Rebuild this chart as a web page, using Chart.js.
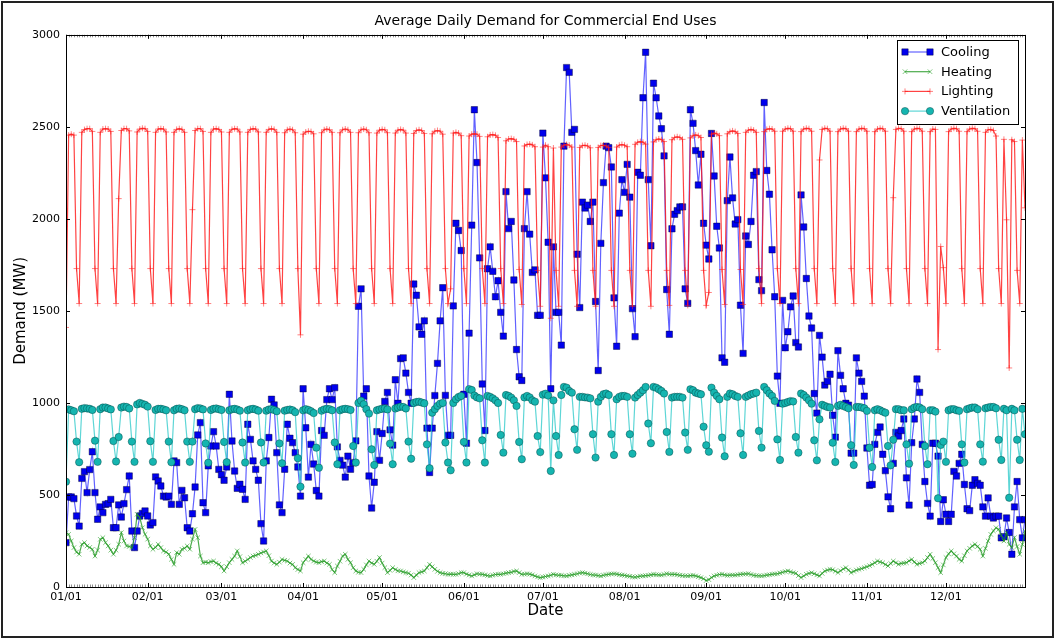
<!DOCTYPE html>
<html>
<head>
<meta charset="utf-8">
<title>Average Daily Demand for Commercial End Uses</title>
<script src="https://cdn.jsdelivr.net/npm/chart.js@4.4.1/dist/chart.umd.min.js"></script>
<style>
  html, body { margin: 0; padding: 0; background: #fff; }
  #wrap { width: 1056px; height: 640px; }
</style>
</head>
<body>
<div id="wrap"><canvas id="demand-chart" width="1056" height="640"></canvas></div>
<script>
// x axis: day of year (0 = Jan 1), ticks on the first of each month
const monthTickDays = [0, 31, 59, 90, 120, 151, 181, 212, 243, 273, 304, 334];
const monthTickLabels = ['01/01', '02/01', '03/01', '04/01', '05/01', '06/01',
                         '07/01', '08/01', '09/01', '10/01', '11/01', '12/01'];
const yTickValues = [0, 500, 1000, 1500, 2000, 2500, 3000];
const seriesNames = ['Cooling', 'Heating', 'Lighting', 'Ventilation'];

// daily averages in MW, one row per month
const cooling = [
  241, 489, 489, 480, 386, 331, 590, 627, 513, 638, 735, 513, 368, 435, 404, 449, 453, 476, 322, 322, 446, 380, 453, 529, 603, 304, 214, 304, 386, 400, 413,
  386, 337, 350, 598, 576, 549, 494, 489, 494, 449, 685, 676, 449, 525, 485, 322, 304, 398, 543, 826, 893, 458, 404, 658, 766, 844, 766, 639,
  610, 580, 652, 1047, 793, 630, 536, 558, 531, 476, 884, 802, 685, 639, 580, 344, 250, 685, 812, 1020, 989, 730, 446, 404, 640, 884, 808, 784, 730, 652, 494,
  1077, 865, 597, 775, 668, 524, 494, 850, 824, 1018, 1077, 1018, 1083, 761, 688, 662, 597, 711, 640, 676, 794, 1525, 1620, 1037, 1077, 603, 429, 569, 844, 688,
  834, 1008, 1057, 854, 771, 1126, 998, 1241, 1245, 1162, 1057, 998, 1646, 1585, 1413, 1373, 1446, 863, 622, 863, 1040, 1215, 1446, 1626, 1041, 824, 824, 1527, 1976, 1937, 1828,
  1047, 781, 1379, 1966, 2593, 2306, 1788, 1103, 850, 1729, 1848, 1715, 1577, 1664, 1492, 1363, 2148, 1947, 1986, 1668, 1290, 1142, 1122, 1947, 2148, 1917, 1709, 1723, 1476, 1476,
  2466, 2223, 1873, 1077, 1848, 1492, 1492, 1314, 2395, 2822, 2796, 2470, 2486, 1808, 1518, 2091, 2059, 2075, 1986, 2091, 1551, 1176, 1867, 2197, 2395, 2387, 2282, 1571, 1308, 2031, 2213,
  2144, 2296, 2118, 1512, 1360, 2253, 2237, 2658, 2905, 2213, 1854, 2737, 2658, 2559, 2490, 2342, 1616, 1373, 1946, 2025, 2045, 2065, 2065, 1620, 1541, 2593, 2519, 2371, 2184, 2351, 1976,
  1857, 1782, 2464, 2233, 1960, 1842, 1245, 1221, 2099, 2336, 2114, 1972, 1996, 1531, 1269, 1907, 1861, 1986, 2237, 2257, 1670, 1610, 2632, 2263, 2134, 1832, 1577, 1146, 998, 1557,
  1300, 1387, 1522, 1581, 1328, 1304, 2130, 1956, 1676, 1472, 1407, 1051, 945, 1367, 1249, 1097, 1117, 1156, 933, 814, 1284, 1150, 1077, 998, 988, 727, 727, 1245, 1162, 1117, 1037,
  755, 553, 557, 775, 840, 869, 721, 632, 490, 425, 672, 840, 820, 850, 913, 593, 445, 784, 913, 1130, 1057, 775, 573, 454, 385, 781, 781, 711, 356, 474,
  395, 356, 395, 628, 603, 672, 721, 557, 425, 415, 553, 583, 563, 553, 435, 385, 484, 385, 375, 385, 385, 267, 273, 375, 296, 178, 435, 573, 366, 267, 366
];

const heating = [
  295, 286, 250, 214, 190, 178, 232, 241, 223, 215, 205, 168, 200, 259, 268, 241, 223, 200, 178, 200, 232, 295, 250, 223, 220, 214, 268, 395, 377, 322, 286,
  260, 223, 205, 215, 232, 214, 196, 190, 178, 150, 123, 187, 178, 205, 210, 223, 205, 260, 313, 268, 168, 132, 135, 132, 138, 141, 130, 123,
  110, 87, 110, 132, 150, 168, 196, 165, 132, 140, 150, 160, 168, 172, 178, 185, 190, 196, 170, 141, 130, 123, 135, 150, 145, 141, 130, 123, 105, 95, 87,
  132, 150, 168, 150, 141, 135, 132, 138, 141, 130, 123, 95, 78, 114, 140, 168, 178, 150, 132, 105, 87, 80, 78, 96, 120, 141, 130, 123, 140, 160,
  130, 105, 78, 90, 105, 95, 88, 87, 82, 78, 75, 65, 51, 65, 78, 82, 87, 105, 123, 110, 96, 85, 78, 74, 72, 69, 70, 69, 69, 72, 78,
  78, 70, 65, 60, 66, 72, 70, 69, 66, 62, 60, 64, 68, 69, 69, 72, 75, 78, 80, 85, 87, 78, 69, 70, 72, 70, 66, 60, 55, 51,
  54, 57, 60, 64, 69, 66, 64, 63, 61, 60, 63, 66, 69, 72, 76, 78, 75, 72, 68, 66, 65, 62, 60, 64, 67, 69, 71, 72, 70, 67, 65,
  63, 60, 58, 55, 54, 56, 59, 60, 62, 63, 66, 69, 67, 66, 65, 68, 72, 70, 69, 69, 67, 64, 62, 61, 60, 62, 63, 60, 56, 51, 45,
  35, 40, 52, 60, 64, 68, 69, 66, 63, 64, 65, 65, 67, 69, 70, 71, 72, 68, 64, 62, 61, 60, 62, 65, 67, 69, 71, 72, 76, 80,
  84, 87, 82, 78, 75, 62, 51, 60, 69, 74, 78, 72, 66, 60, 74, 87, 92, 96, 94, 86, 78, 88, 98, 105, 92, 78, 85, 92, 96, 100, 105,
  110, 116, 123, 132, 141, 136, 132, 122, 114, 128, 141, 132, 123, 128, 130, 132, 142, 150, 136, 123, 128, 132, 141, 160, 178, 155, 132, 105, 78, 120,
  160, 180, 196, 180, 168, 150, 141, 170, 196, 210, 223, 232, 220, 205, 168, 210, 250, 286, 305, 322, 313, 280, 250, 295, 232, 214, 268, 220, 178, 232, 304
];

const lighting = [
  1410, 2455, 2460, 2455, 1730, 1540, 2470, 2485, 2490, 2490, 2475, 1730, 1540, 2470, 2488, 2490, 2488, 2475, 1730, 1540, 2110, 2480, 2490, 2490, 2478, 1730, 1540, 2472, 2488, 2492, 2490,
  2475, 1730, 1540, 2470, 2488, 2490, 2488, 2472, 1730, 1540, 2470, 2486, 2490, 2486, 2470, 1730, 1540, 2050, 2480, 2490, 2490, 2475, 1730, 1540, 2470, 2488, 2490, 2486,
  2472, 1730, 1540, 2470, 2486, 2490, 2488, 2472, 1730, 1540, 2470, 2486, 2490, 2488, 2472, 1730, 1540, 2470, 2486, 2490, 2486, 2470, 1730, 1540, 2468, 2484, 2488, 2484, 2468, 1730, 1370,
  2460, 2472, 2476, 2474, 2462, 1730, 1540, 2468, 2484, 2488, 2484, 2470, 1730, 1540, 2468, 2484, 2488, 2484, 2470, 1730, 1540, 2468, 2484, 2488, 2484, 2468, 1730, 1540, 2466, 2482,
  2486, 2484, 2468, 1730, 1540, 2466, 2482, 2486, 2482, 2466, 1730, 1540, 2464, 2480, 2484, 2480, 2464, 1730, 1540, 2462, 2476, 2480, 2476, 2460, 1730, 1540, 1620, 2466, 2470, 2466, 2452,
  1730, 1540, 2450, 2460, 2462, 2460, 2448, 1730, 1540, 2446, 2456, 2458, 2454, 2442, 1730, 1540, 2424, 2434, 2436, 2432, 2420, 1725, 1535, 2396, 2404, 2406, 2402, 2392, 1720, 1525,
  2390, 2400, 2392, 1460, 2385, 1720, 1525, 2390, 2400, 2404, 2400, 2390, 1720, 1525, 2388, 2398, 2400, 2396, 2386, 1720, 1525, 2388, 2398, 2400, 2396, 2388, 1720, 1525, 2390, 2400, 2404,
  2400, 2392, 1720, 1525, 2405, 2416, 2420, 2416, 2406, 1720, 1525, 2418, 2430, 2434, 2430, 2420, 1720, 1530, 2430, 2442, 2446, 2442, 2432, 1720, 1530, 2440, 2452, 2456, 2452, 2442, 1720,
  1530, 1600, 2460, 2466, 2462, 2452, 1725, 1535, 2462, 2474, 2478, 2474, 2464, 1725, 1535, 2470, 2482, 2486, 2482, 2470, 1730, 1540, 2474, 2486, 2490, 2488, 2476, 1730, 1540, 2476,
  2488, 2492, 2490, 2476, 1730, 1540, 2474, 2488, 2492, 2490, 2476, 1730, 1540, 2320, 2486, 2492, 2490, 2476, 1730, 1540, 2474, 2488, 2492, 2490, 2476, 1730, 1540, 2474, 2488, 2492, 2490,
  2476, 1730, 1540, 2474, 2488, 2492, 2490, 2476, 1730, 1540, 2115, 2486, 2492, 2490, 2476, 1730, 1540, 2474, 2488, 2492, 2490, 2476, 1730, 1540, 2474, 2488, 2486, 1290, 1850, 1735,
  1540, 2474, 2488, 2492, 2490, 2476, 1730, 1540, 2474, 2488, 2492, 2490, 2476, 1730, 1540, 2470, 2484, 2486, 2480, 2450, 1730, 1540, 2432, 1995, 1190, 2430, 2420, 1720, 1540, 2428, 2060
];

const ventilation = [
  572, 965, 960, 955, 790, 678, 968, 972, 970, 968, 962, 795, 680, 966, 975, 975, 970, 965, 793, 682, 815, 975, 980, 978, 970, 790, 680, 992, 1000, 995, 990,
  980, 792, 680, 962, 968, 968, 965, 960, 790, 678, 960, 968, 970, 966, 960, 790, 680, 790, 966, 972, 970, 965, 780, 675, 962, 968, 970, 966,
  962, 788, 678, 960, 966, 968, 964, 958, 785, 676, 960, 966, 968, 964, 958, 785, 676, 958, 964, 966, 962, 955, 780, 672, 958, 962, 964, 960, 950, 700, 545,
  960, 966, 962, 955, 945, 757, 648, 958, 965, 968, 966, 960, 785, 667, 960, 966, 968, 966, 962, 766, 676, 1000, 1012, 993, 966, 942, 748, 663, 960, 965,
  968, 970, 965, 779, 667, 970, 975, 980, 978, 970, 790, 697, 1000, 1005, 1007, 1002, 998, 775, 645, 947, 966, 984, 996, 1000, 785, 676, 634, 1000, 1020, 1032, 1038,
  788, 676, 1075, 1070, 1040, 1030, 1025, 797, 676, 1038, 1033, 1025, 1014, 1000, 826, 730, 1043, 1038, 1029, 1014, 984, 788, 694, 1030, 1038, 1030, 1014, 1007, 820, 733,
  1045, 1050, 1040, 630, 1014, 820, 717, 1043, 1087, 1083, 1065, 1056, 857, 745, 1033, 1033, 1030, 1029, 1025, 830, 703, 1007, 1033, 1047, 1051, 1043, 830, 717, 1020, 1033, 1038,
  1038, 1033, 830, 724, 1029, 1043, 1056, 1069, 1087, 888, 781, 1087, 1083, 1074, 1065, 1051, 842, 734, 1029, 1033, 1033, 1033, 1029, 839, 745, 1074, 1069, 1056, 1051, 1047, 871,
  770, 735, 1083, 1056, 1038, 1020, 812, 710, 1033, 1051, 1047, 1038, 1033, 835, 717, 1033, 1040, 1047, 1051, 1056, 848, 757, 1087, 1069, 1051, 1038, 1011, 802, 690, 996,
  1000, 1005, 1010, 1008, 815, 730, 1051, 1043, 1029, 1014, 996, 797, 688, 911, 990, 984, 978, 975, 784, 679, 984, 990, 984, 978, 971, 770, 663, 978, 978, 975, 971,
  957, 757, 652, 960, 966, 960, 953, 947, 766, 661, 800, 966, 966, 960, 960, 775, 670, 966, 975, 978, 975, 966, 766, 667, 960, 960, 953, 482, 772, 790,
  680, 960, 966, 966, 960, 957, 775, 676, 966, 971, 975, 975, 966, 775, 681, 971, 975, 978, 978, 971, 800, 690, 968, 960, 485, 968, 960, 800, 690, 968, 830
];

const toPoints = values => values.map((v, i) => ({ x: i, y: v }));

const seriesStyles = [
  { data: cooling, line: 'rgba(30,30,255,0.7)', fill: '#0000ee', edge: 'rgba(0,0,50,0.75)', style: 'rect', radius: 4.5, edgeWidth: 0.6 },
  { data: heating, line: 'rgba(30,150,30,0.8)', fill: '#2e9e2e', edge: 'rgba(40,160,40,0.75)', style: 'crossRot', radius: 3.2, edgeWidth: 0.8 },
  { data: lighting, line: 'rgba(255,20,20,0.8)', fill: '#ff2020', edge: 'rgba(255,30,30,0.7)', style: 'cross', radius: 3, edgeWidth: 0.8 },
  { data: ventilation, line: 'rgba(40,200,200,0.75)', fill: '#15b5b0', edge: 'rgba(0,60,60,0.7)', style: 'circle', radius: 3.7, edgeWidth: 0.6 }
];

const datasets = seriesStyles.map((s, i) => ({
  label: seriesNames[i],
  data: toPoints(s.data),
  borderColor: s.line,
  borderWidth: 1.2,
  pointStyle: s.style,
  pointRadius: s.radius,
  pointBackgroundColor: s.fill,
  pointBorderColor: s.edge,
  pointBorderWidth: s.edgeWidth,
  tension: 0,
  fill: false,
  order: seriesStyles.length - i
}));

// white background, plot frame with inward ticks, legend box and outer border
const figureDecor = {
  id: 'figureDecor',
  beforeDraw(chart) {
    const ctx = chart.ctx;
    ctx.save();
    ctx.fillStyle = '#fff';
    ctx.fillRect(0, 0, chart.width, chart.height);
    ctx.restore();
  },
  afterDatasetsDraw(chart) {
    const { ctx, chartArea: a, scales: { x, y } } = chart;
    ctx.save();
    // daily minor ticks
    ctx.strokeStyle = 'rgba(0,0,0,0.55)';
    ctx.lineWidth = 0.8;
    ctx.beginPath();
    for (let d = 0; d <= 364; d++) {
      const px = Math.round(x.getPixelForValue(d)) + 0.5;
      ctx.moveTo(px, a.bottom); ctx.lineTo(px, a.bottom - 2.5);
      ctx.moveTo(px, a.top); ctx.lineTo(px, a.top + 2.5);
    }
    ctx.stroke();
    // major ticks
    ctx.strokeStyle = '#000';
    ctx.lineWidth = 1;
    ctx.beginPath();
    monthTickDays.forEach(d => {
      const px = Math.round(x.getPixelForValue(d)) + 0.5;
      ctx.moveTo(px, a.bottom); ctx.lineTo(px, a.bottom - 4);
      ctx.moveTo(px, a.top); ctx.lineTo(px, a.top + 4);
    });
    yTickValues.forEach(v => {
      const py = Math.round(y.getPixelForValue(v)) + 0.5;
      ctx.moveTo(a.left, py); ctx.lineTo(a.left + 4, py);
      ctx.moveTo(a.right, py); ctx.lineTo(a.right - 4, py);
    });
    ctx.stroke();
    ctx.strokeRect(Math.round(a.left) + 0.5, Math.round(a.top) + 0.5,
                   Math.round(a.right - a.left), Math.round(a.bottom - a.top));
    ctx.restore();
  },
  afterDraw(chart) {
    const ctx = chart.ctx;
    ctx.save();
    // legend
    const bx = 897.5, by = 40.5, bw = 121, bh = 84;
    ctx.fillStyle = '#fff';
    ctx.fillRect(bx, by, bw, bh);
    ctx.strokeStyle = '#000';
    ctx.lineWidth = 1;
    ctx.strokeRect(bx, by, bw, bh);
    ctx.font = '13px "DejaVu Sans"';
    ctx.textBaseline = 'middle';
    ctx.textAlign = 'left';
    seriesStyles.forEach((s, i) => {
      const ly = 52 + i * 19.7;
      ctx.strokeStyle = s.line;
      ctx.lineWidth = 1.2;
      ctx.beginPath();
      ctx.moveTo(905, ly);
      ctx.lineTo(930, ly);
      ctx.stroke();
      [905, 930].forEach(px => {
        ctx.fillStyle = s.fill;
        ctx.strokeStyle = s.edge;
        ctx.lineWidth = s.edgeWidth;
        Chart.helpers.drawPoint(ctx, { pointStyle: s.style, radius: s.radius, rotation: 0, borderWidth: s.edgeWidth }, px, ly);
      });
      ctx.fillStyle = '#000';
      ctx.fillText(seriesNames[i], 941, ly + 0.5);
    });
    // outer figure border
    ctx.strokeStyle = '#222';
    ctx.lineWidth = 2;
    ctx.strokeRect(2, 2, 1051, 635);
    ctx.restore();
  }
};

const tickFont = { family: 'DejaVu Sans', size: 11 };

new Chart(document.getElementById('demand-chart'), {
  type: 'line',
  data: { datasets },
  options: {
    responsive: false,
    animation: false,
    devicePixelRatio: 1,
    layout: { padding: { left: 12, right: 31, top: 0, bottom: 20 } },
    plugins: {
      legend: { display: false },
      tooltip: { enabled: false },
      title: {
        display: true,
        fullSize: false,
        text: 'Average Daily Demand for Commercial End Uses',
        color: '#000',
        font: { family: 'DejaVu Sans', size: 14, weight: 'normal' },
        padding: { top: 13, bottom: 5 }
      }
    },
    scales: {
      x: {
        type: 'linear',
        min: 0,
        max: 364,
        afterBuildTicks: axis => { axis.ticks = monthTickDays.map(v => ({ value: v })); },
        afterFit: axis => { axis.height = 33; },
        ticks: {
          autoSkip: false,
          maxRotation: 0,
          padding: 4,
          color: '#000',
          font: tickFont,
          callback: v => monthTickLabels[monthTickDays.indexOf(v)]
        },
        grid: { display: false, drawTicks: false, tickLength: 0 },
        border: { display: false },
        title: {
          display: true,
          text: 'Date',
          color: '#000',
          font: { family: 'DejaVu Sans', size: 15 },
          padding: { top: 2, bottom: 0 }
        }
      },
      y: {
        type: 'linear',
        min: 0,
        max: 3000,
        afterBuildTicks: axis => { axis.ticks = yTickValues.map(v => ({ value: v })); },
        afterFit: axis => { axis.width = 54; },
        ticks: { padding: 6, color: '#000', font: tickFont, callback: v => String(v) },
        grid: { display: false, drawTicks: false, tickLength: 0 },
        border: { display: false },
        title: {
          display: true,
          text: 'Demand (MW)',
          color: '#000',
          font: { family: 'DejaVu Sans', size: 15 },
          padding: { top: 0, bottom: 0 }
        }
      }
    }
  },
  plugins: [figureDecor]
});
</script>
</body>
</html>
